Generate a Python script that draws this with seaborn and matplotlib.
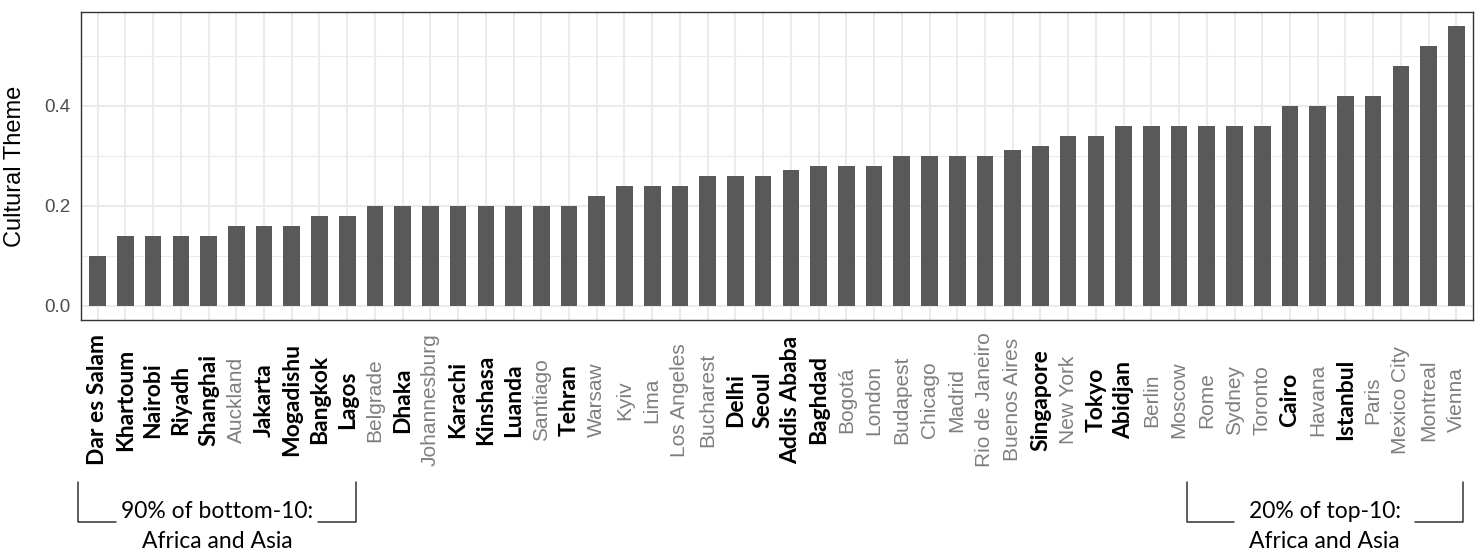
import matplotlib
matplotlib.use("Agg")
import matplotlib.pyplot as plt
import matplotlib.transforms as mtransforms
from matplotlib.ticker import MultipleLocator
import seaborn as sns
import pandas as pd

# ---- data ----
cities = ["Dar es Salam", "Khartoum", "Nairobi", "Riyadh", "Shanghai", "Auckland",
          "Jakarta", "Mogadishu", "Bangkok", "Lagos", "Belgrade", "Dhaka",
          "Johannesburg", "Karachi", "Kinshasa", "Luanda", "Santiago", "Tehran",
          "Warsaw", "Kyiv", "Lima", "Los Angeles", "Bucharest", "Delhi", "Seoul",
          "Addis Ababa", "Baghdad", "Bogotá", "London", "Budapest", "Chicago",
          "Madrid", "Rio de Janeiro", "Buenos Aires", "Singapore", "New York",
          "Tokyo", "Abidjan", "Berlin", "Moscow", "Rome", "Sydney", "Toronto",
          "Cairo", "Havana", "Istanbul", "Paris", "Mexico City", "Montreal", "Vienna"]
values = [0.10, 0.14, 0.14, 0.14, 0.14, 0.16,
          0.16, 0.16, 0.18, 0.18, 0.20, 0.20,
          0.20, 0.20, 0.20, 0.20, 0.20, 0.20,
          0.22, 0.24, 0.24, 0.24, 0.26, 0.26, 0.26,
          0.273, 0.28, 0.28, 0.28, 0.30, 0.30,
          0.30, 0.30, 0.3125, 0.32, 0.34,
          0.34, 0.36, 0.36, 0.36, 0.36, 0.36, 0.36,
          0.40, 0.40, 0.42, 0.42, 0.48, 0.52, 0.56]
africa_asia = ["Dar es Salam", "Khartoum", "Nairobi", "Riyadh", "Shanghai", "Jakarta",
               "Mogadishu", "Bangkok", "Lagos", "Dhaka", "Karachi", "Kinshasa",
               "Luanda", "Tehran", "Delhi", "Seoul", "Addis Ababa", "Baghdad",
               "Singapore", "Tokyo", "Abidjan", "Cairo", "Istanbul"]
y_ticks = [0.0, 0.2, 0.4]
y_title = "Cultural Theme"
note_bottom = ["90% of bottom-10:", "Africa and Asia"]
note_top = ["20% of top-10:", "Africa and Asia"]

df = pd.DataFrame({"city": cities, "value": values})

sns.set_theme(style="white")
plt.rcParams["font.family"] = ["Liberation Sans", "DejaVu Sans"]

W, H = 1484, 556
fig = plt.figure(figsize=(W / 100, H / 100), dpi=100)
ax = fig.add_axes([81 / W, 1 - 320 / H, (1473 - 81) / W, (320 - 12) / H])

sns.barplot(data=df, x="city", y="value", order=cities, color="#595959",
            saturation=1, width=0.6, ax=ax, zorder=3, edgecolor="none")

n = len(cities)
ax.set_xlim(-0.6, n - 1 + 0.6)
ymax = max(values)
ax.set_ylim(-0.05 * ymax, ymax * 1.05)

# grid
ax.set_yticks(y_ticks)
ax.set_yticklabels([f"{v:.1f}" for v in y_ticks])
ax.yaxis.set_minor_locator(MultipleLocator(0.1))
ax.grid(which="major", axis="both", color="#EBEBEB", lw=1.5, zorder=0)
ax.grid(which="minor", axis="y", color="#EBEBEB", lw=0.8, zorder=0)
ax.set_axisbelow(True)
for s in ax.spines.values():
    s.set_color("#333333")
    s.set_linewidth(1.0)

ax.tick_params(axis="both", which="major", length=4.5, width=1.2, color="#333333")
ax.tick_params(axis="y", which="minor", length=0)
ax.tick_params(axis="y", labelsize=13.5, labelcolor="#4D4D4D", pad=3)
ax.set_xlabel("")
ax.set_ylabel(y_title, fontsize=17, color="black", labelpad=13)

# x tick labels: rotated, centred vertically
ax.tick_params(axis="x", pad=53)
for lab in ax.get_xticklabels():
    name = lab.get_text()
    lab.set_rotation(90)
    lab.set_va("center")
    lab.set_ha("center")
    if name in africa_asia:
        lab.set_fontfamily(["Lato", "DejaVu Sans"])
        lab.set_fontweight("bold")
        lab.set_fontsize(16.5)
        lab.set_color("black")
    else:
        lab.set_fontfamily(["Liberation Sans", "DejaVu Sans"])
        lab.set_fontsize(15)
        lab.set_color("#7F7F7F")

# bracket annotations (x in data units, y in axes fraction)
trans = mtransforms.blended_transform_factory(ax.transData, ax.transAxes)
y_top = (320 - 482) / 308
y_bot = (320 - 522) / 308
y_l1 = (320 - 511) / 308
y_l2 = (320 - 541) / 308


def bracket(x0, x1, g0, g1, lines):
    kw = dict(color="#333333", lw=1.1, transform=trans, clip_on=False)
    ax.plot([x0, x0, g0], [y_top, y_bot, y_bot], **kw)
    ax.plot([g1, x1, x1], [y_bot, y_bot, y_top], **kw)
    xc = (x0 + x1) / 2
    ax.text(xc, y_l1, lines[0], transform=trans, ha="center", va="center",
            fontsize=16.5, family=["Lato", "DejaVu Sans"], color="black")
    ax.text(xc, y_l2, lines[1], transform=trans, ha="center", va="center",
            fontsize=16.5, family=["Lato", "DejaVu Sans"], color="black")


bracket(-0.7, 9.3, 0.65, 7.96, note_bottom)
bracket(39.27, 49.24, 40.99, 47.51, note_top)

fig.savefig("out.png", dpi=100)
